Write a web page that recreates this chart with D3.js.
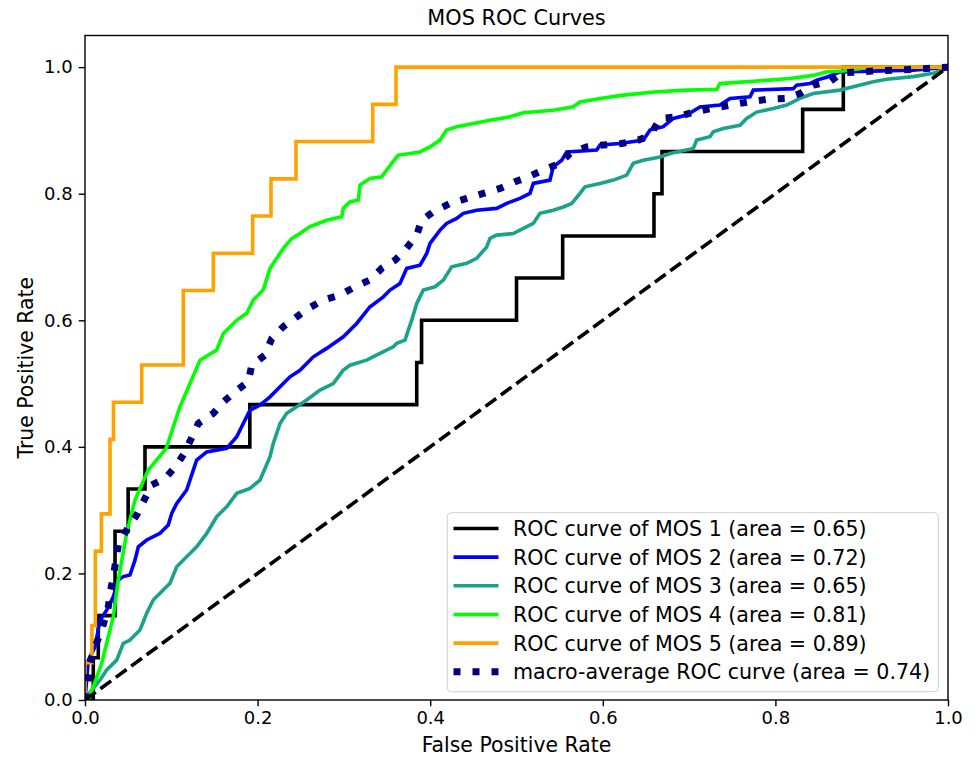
<!DOCTYPE html>
<html>
<head>
<meta charset="utf-8">
<script src="https://cdn.jsdelivr.net/npm/d3@7/dist/d3.min.js"></script>
<style>
  html, body { margin: 0; padding: 0; background: #fff; }
  svg { display: block; font-family: "DejaVu Sans", sans-serif; }
</style>
</head>
<body>
<svg id="chart" width="978" height="760"></svg>
<script>
// ROC curve points per MOS class (false positive rate / true positive rate)
const mos1Fpr = [0, 0.0096, 0.0096, 0.0154, 0.0154, 0.0348, 0.0348, 0.050, 0.050, 0.0695, 0.0695, 0.191, 0.191, 0.3844, 0.3844, 0.390, 0.390, 0.500, 0.500, 0.5535, 0.5535, 0.6593, 0.6593, 0.6686, 0.6686, 0.8316, 0.8316, 0.8787, 0.8787, 1];
const mos1Tpr = [0, 0, 0.0667, 0.0667, 0.1333, 0.1333, 0.2667, 0.2667, 0.3333, 0.3333, 0.4, 0.4, 0.4667, 0.4667, 0.5333, 0.5333, 0.6, 0.6, 0.6667, 0.6667, 0.7333, 0.7333, 0.8, 0.8, 0.8667, 0.8667, 0.9333, 0.9333, 1, 1];

const mos2Fpr = [0, 0.0038, 0.0116, 0.0174, 0.0251, 0.0328, 0.0386, 0.0444, 0.0521, 0.0579, 0.0618, 0.0715, 0.0869, 0.0965, 0.1005, 0.1063, 0.1178, 0.1255, 0.1294, 0.141, 0.1642, 0.1758, 0.1834, 0.1912, 0.2028, 0.2144, 0.226, 0.2375, 0.2491, 0.2646, 0.280, 0.2993, 0.3148, 0.330, 0.3457, 0.3534, 0.365, 0.3728, 0.3882, 0.396, 0.3998, 0.4114, 0.419, 0.4307, 0.4384, 0.4539, 0.477, 0.4887, 0.504, 0.5156, 0.5195, 0.5388, 0.5426, 0.5524, 0.5582, 0.5929, 0.5968, 0.620, 0.647, 0.6547, 0.6701, 0.6817, 0.6972, 0.7126, 0.7358, 0.7474, 0.7706, 0.7744, 0.8207, 0.8247, 0.840, 0.8479, 0.8594, 0.875, 0.9594, 1];
const mos2Tpr = [0, 0.063, 0.084, 0.126, 0.142, 0.163, 0.1896, 0.195, 0.1975, 0.221, 0.242, 0.2528, 0.2634, 0.2765, 0.295, 0.3107, 0.3318, 0.3633, 0.379, 0.392, 0.3976, 0.416, 0.437, 0.458, 0.466, 0.479, 0.495, 0.5107, 0.521, 0.5423, 0.5556, 0.574, 0.595, 0.621, 0.637, 0.6477, 0.658, 0.682, 0.687, 0.7057, 0.7215, 0.7425, 0.753, 0.761, 0.769, 0.774, 0.7768, 0.7847, 0.7926, 0.8005, 0.8163, 0.8215, 0.8425, 0.853, 0.866, 0.869, 0.877, 0.8794, 0.8847, 0.9005, 0.906, 0.919, 0.9242, 0.937, 0.94, 0.9506, 0.953, 0.9637, 0.966, 0.9716, 0.974, 0.9795, 0.984, 0.9926, 0.9953, 1];

const mos3Fpr = [0, 0.0017, 0.0174, 0.0251, 0.0367, 0.0444, 0.0521, 0.0637, 0.0715, 0.0791, 0.0869, 0.0985, 0.1063, 0.1178, 0.1294, 0.141, 0.1526, 0.1642, 0.1758, 0.1912, 0.2028, 0.2144, 0.2182, 0.226, 0.2337, 0.2453, 0.2569, 0.2723, 0.2877, 0.2993, 0.3071, 0.3264, 0.3418, 0.3572, 0.3612, 0.3708, 0.3746, 0.3786, 0.3844, 0.392, 0.4056, 0.4152, 0.4249, 0.4423, 0.4539, 0.4655, 0.4693, 0.477, 0.4963, 0.504, 0.5195, 0.5272, 0.5426, 0.5542, 0.564, 0.5736, 0.5794, 0.5968, 0.6122, 0.6277, 0.6353, 0.647, 0.6663, 0.6779, 0.7049, 0.7088, 0.7242, 0.728, 0.7396, 0.759, 0.7667, 0.7783, 0.7976, 0.8131, 0.8285, 0.8439, 0.8748, 0.8903, 0.9134, 0.929, 0.9598, 0.983, 0.9985, 1];
const mos3Tpr = [0, 0.005, 0.0316, 0.0474, 0.063, 0.0896, 0.0948, 0.1106, 0.137, 0.158, 0.1686, 0.1844, 0.2106, 0.2264, 0.2422, 0.2633, 0.2896, 0.3054, 0.3265, 0.3344, 0.3476, 0.3844, 0.4055, 0.437, 0.453, 0.4633, 0.474, 0.4897, 0.500, 0.5213, 0.529, 0.537, 0.5477, 0.558, 0.5635, 0.5687, 0.5845, 0.6003, 0.6267, 0.6477, 0.653, 0.6635, 0.6845, 0.690, 0.698, 0.716, 0.7294, 0.7346, 0.737, 0.7425, 0.753, 0.769, 0.774, 0.779, 0.7846, 0.8005, 0.811, 0.816, 0.8215, 0.8294, 0.848, 0.853, 0.858, 0.8636, 0.8715, 0.8847, 0.890, 0.898, 0.903, 0.908, 0.919, 0.929, 0.9347, 0.940, 0.9506, 0.9584, 0.9637, 0.969, 0.977, 0.981, 0.985, 0.9905, 0.998, 1];

const mos4Fpr = [0, 0.004, 0.0194, 0.0328, 0.0386, 0.0483, 0.0579, 0.0733, 0.0927, 0.0947, 0.110, 0.1217, 0.1333, 0.1526, 0.1603, 0.1758, 0.1874, 0.195, 0.2066, 0.2144, 0.2298, 0.2395, 0.2491, 0.2607, 0.280, 0.2975, 0.2993, 0.307, 0.3167, 0.3187, 0.3302, 0.3438, 0.3554, 0.363, 0.3766, 0.3882, 0.3998, 0.4114, 0.419, 0.4307, 0.4693, 0.4925, 0.5079, 0.5426, 0.5658, 0.5736, 0.5968, 0.6238, 0.6625, 0.6972, 0.7242, 0.732, 0.7358, 0.7783, 0.817, 0.844, 0.8594, 0.8787, 0.9096, 1];
const mos4Tpr = [0, 0, 0.058, 0.1316, 0.1896, 0.2638, 0.316, 0.3633, 0.395, 0.400, 0.4633, 0.500, 0.537, 0.553, 0.579, 0.600, 0.611, 0.632, 0.648, 0.682, 0.7136, 0.729, 0.737, 0.748, 0.758, 0.7635, 0.777, 0.787, 0.790, 0.8136, 0.824, 0.8267, 0.848, 0.861, 0.8636, 0.866, 0.874, 0.8847, 0.9005, 0.9057, 0.916, 0.9215, 0.928, 0.932, 0.9373, 0.945, 0.9506, 0.9558, 0.961, 0.9637, 0.9647, 0.9647, 0.974, 0.978, 0.982, 0.987, 0.9926, 0.994, 1, 1];

const mos5Fpr = [0, 0, 0.004, 0.004, 0.008, 0.008, 0.012, 0.012, 0.019, 0.019, 0.029, 0.029, 0.033, 0.033, 0.0657, 0.0657, 0.1139, 0.1139, 0.1487, 0.1487, 0.1943, 0.1943, 0.2155, 0.2155, 0.2445, 0.2445, 0.3334, 0.3334, 0.3604, 0.3604, 1];
const mos5Tpr = [0, 0.0588, 0.0588, 0.0588, 0.0588, 0.1176, 0.1176, 0.2353, 0.2353, 0.2941, 0.2941, 0.4118, 0.4118, 0.4706, 0.4706, 0.5294, 0.5294, 0.6471, 0.6471, 0.7059, 0.7059, 0.7647, 0.7647, 0.8235, 0.8235, 0.8824, 0.8824, 0.9412, 0.9412, 1, 1];

const macroFpr = [0, 0.0038, 0.0058, 0.0116, 0.0194, 0.027, 0.029, 0.0328, 0.0386, 0.0483, 0.0599, 0.0695, 0.0773, 0.0927, 0.1063, 0.1159, 0.1313, 0.1487, 0.1603, 0.1738, 0.1892, 0.1932, 0.2086, 0.2163, 0.2298, 0.2453, 0.2587, 0.2761, 0.2955, 0.3129, 0.330, 0.3438, 0.3592, 0.3708, 0.3844, 0.390, 0.4036, 0.423, 0.4423, 0.4615, 0.4809, 0.4983, 0.5137, 0.531, 0.5504, 0.562, 0.5813, 0.6006, 0.6219, 0.6411, 0.6509, 0.6585, 0.6663, 0.6875, 0.7049, 0.7262, 0.7474, 0.7686, 0.790, 0.8111, 0.8285, 0.8439, 0.8633, 0.8768, 0.9192, 0.9598, 0.9985, 1];
const macroTpr = [0, 0.0316, 0.058, 0.084, 0.1106, 0.1474, 0.1686, 0.1948, 0.245, 0.2686, 0.2923, 0.3186, 0.3397, 0.350, 0.371, 0.392, 0.437, 0.453, 0.471, 0.487, 0.503, 0.529, 0.545, 0.571, 0.590, 0.6055, 0.6188, 0.632, 0.640, 0.653, 0.6635, 0.682, 0.695, 0.711, 0.7346, 0.758, 0.7714, 0.7847, 0.7926, 0.8005, 0.8084, 0.8188, 0.8267, 0.8373, 0.8479, 0.8636, 0.874, 0.877, 0.8794, 0.8847, 0.890, 0.9005, 0.919, 0.9215, 0.929, 0.9347, 0.940, 0.945, 0.949, 0.9506, 0.9584, 0.9716, 0.977, 0.991, 0.9942, 0.9964, 1, 1];

const seriesNames = ["MOS 1", "MOS 2", "MOS 3", "MOS 4", "MOS 5"];
const seriesAreas = ["0.65", "0.72", "0.65", "0.81", "0.89"];
const macroArea = "0.74";
const seriesColors = ["#000000", "#0000ff", "#1aa38a", "#00ff00", "#ffa200"];
const tickValues = [0, 0.2, 0.4, 0.6, 0.8, 1.0];

const curves = [
  { fpr: mos1Fpr, tpr: mos1Tpr },
  { fpr: mos2Fpr, tpr: mos2Tpr },
  { fpr: mos3Fpr, tpr: mos3Tpr },
  { fpr: mos4Fpr, tpr: mos4Tpr },
  { fpr: mos5Fpr, tpr: mos5Tpr }
].map((c, i) => ({
  points: c.fpr.map((f, j) => [f, c.tpr[j]]),
  color: seriesColors[i],
  label: `ROC curve of ${seriesNames[i]} (area = ${seriesAreas[i]})`
}));
const macroPoints = macroFpr.map((f, j) => [f, macroTpr[j]]);

const svg = d3.select("#chart");
const plot = { left: 85, right: 948, top: 35.5, bottom: 700 };

const x = d3.scaleLinear().domain([0, 1]).range([plot.left, plot.right]);
const y = d3.scaleLinear().domain([0, 1.05]).range([plot.bottom, plot.top]);

svg.append("defs").append("clipPath").attr("id", "plot-clip")
  .append("rect")
  .attr("x", plot.left).attr("y", plot.top)
  .attr("width", plot.right - plot.left).attr("height", plot.bottom - plot.top);

const line = d3.line().x(d => x(d[0])).y(d => y(d[1]));

const g = svg.append("g").attr("clip-path", "url(#plot-clip)");

curves.forEach(c => {
  g.append("path")
    .datum(c.points)
    .attr("d", line)
    .attr("fill", "none")
    .attr("stroke", c.color)
    .attr("stroke-width", 3.6)
    .attr("stroke-linejoin", "miter");
});

g.append("path")
  .datum(macroPoints)
  .attr("d", line)
  .attr("fill", "none")
  .attr("stroke", "#000080")
  .attr("stroke-width", 7)
  .attr("stroke-dasharray", "7,12");

// chance diagonal
g.append("path")
  .datum([[0, 0], [1, 1]])
  .attr("d", line)
  .attr("fill", "none")
  .attr("stroke", "#000")
  .attr("stroke-width", 3.6)
  .attr("stroke-dasharray", "13.3,5.8");

// axes
const fmt = d3.format(".1f");
const xAxis = svg.append("g")
  .attr("transform", `translate(0,${plot.bottom})`)
  .call(d3.axisBottom(x).tickValues(tickValues).tickFormat(fmt).tickSize(6.3).tickPadding(5));
const yAxis = svg.append("g")
  .attr("transform", `translate(${plot.left},0)`)
  .call(d3.axisLeft(y).tickValues(tickValues).tickFormat(fmt).tickSize(6.3).tickPadding(6));

[xAxis, yAxis].forEach(a => {
  a.select(".domain").remove();
  a.selectAll(".tick line").attr("stroke", "#000").attr("stroke-width", 1.4);
  a.selectAll(".tick text")
    .attr("fill", "#000")
    .style("font-family", "DejaVu Sans")
    .style("font-size", "18px");
});

svg.append("rect")
  .attr("x", plot.left).attr("y", plot.top)
  .attr("width", plot.right - plot.left).attr("height", plot.bottom - plot.top)
  .attr("fill", "none").attr("stroke", "#000").attr("stroke-width", 1.4);

// titles
svg.append("text")
  .attr("x", (plot.left + plot.right) / 2).attr("y", 25)
  .attr("text-anchor", "middle")
  .style("font-size", "20.8px")
  .text("MOS ROC Curves");

svg.append("text")
  .attr("x", (plot.left + plot.right) / 2).attr("y", 752)
  .attr("text-anchor", "middle")
  .style("font-size", "20.4px")
  .text("False Positive Rate");

svg.append("text")
  .attr("transform", `translate(33,${(plot.top + plot.bottom) / 2}) rotate(-90)`)
  .attr("text-anchor", "middle")
  .style("font-size", "20.4px")
  .text("True Positive Rate");

// legend
const legendItems = curves.map(c => ({ label: c.label, color: c.color, dash: null, width: 3.6 }))
  .concat([{ label: `macro-average ROC curve (area = ${macroArea})`, color: "#000080", dash: "7,12", width: 7 }]);

const legend = svg.append("g");
legend.append("rect")
  .attr("x", 447.3).attr("y", 512.7)
  .attr("width", 491).attr("height", 179)
  .attr("rx", 4)
  .attr("fill", "#fff").attr("fill-opacity", 0.8)
  .attr("stroke", "#d0d0d0").attr("stroke-width", 1);

legendItems.forEach((d, i) => {
  const cy = 528.5 + i * 28.65;
  legend.append("line")
    .attr("x1", 453.5).attr("x2", 498.5)
    .attr("y1", cy).attr("y2", cy)
    .attr("stroke", d.color)
    .attr("stroke-width", d.width)
    .attr("stroke-dasharray", d.dash);
  legend.append("text")
    .attr("x", 513).attr("y", cy)
    .attr("dy", "0.36em")
    .style("font-size", "20.6px")
    .text(d.label);
});
</script>
</body>
</html>
